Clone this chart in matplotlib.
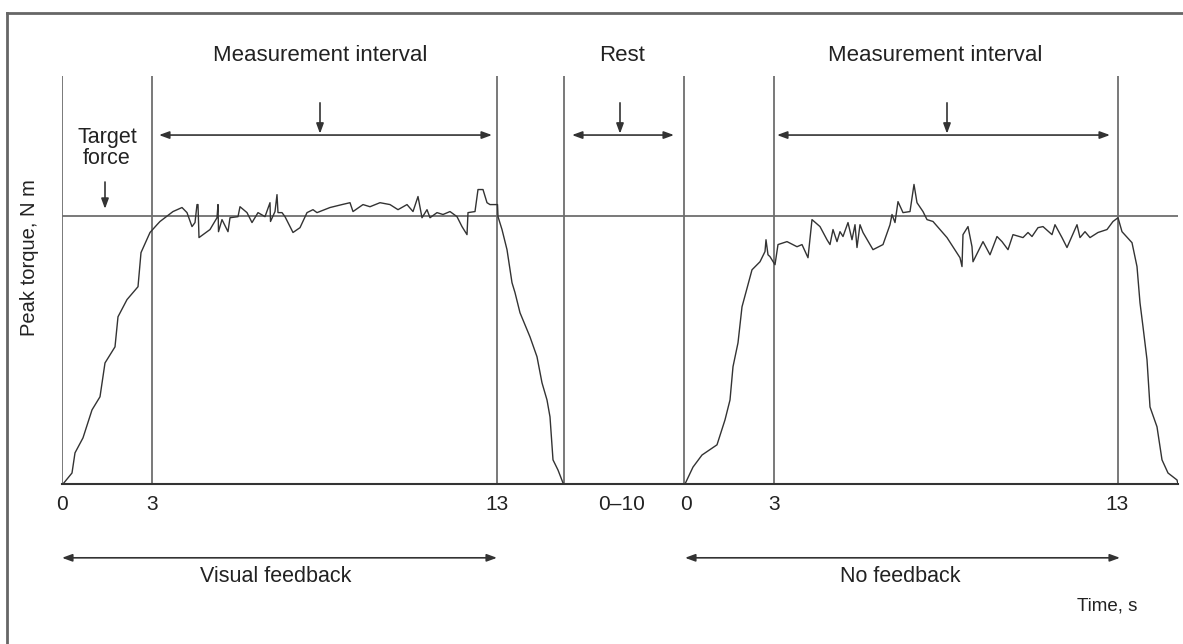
import matplotlib
matplotlib.use("Agg")
import matplotlib.pyplot as plt
from matplotlib.lines import Line2D

plt.rcParams["font.family"] = ["Liberation Sans", "DejaVu Sans"]

# schematic position along the time axis (arbitrary units) and torque in % of target
target_force = 100
axis_top = 152

# trial 1: visual feedback
t1_x = [1, 10, 13, 21, 30, 38, 43, 53, 56, 65, 76, 79, 88, 95, 98, 111, 120, 125, 130, 133,
        135, 136, 137, 148, 155, 156, 156.5, 160, 166, 168, 176, 178, 185, 190, 196, 203, 208,
        208.5, 213, 215, 216, 220, 223, 231, 238, 245, 251, 255, 268, 280, 288, 291, 301, 308,
        318, 328, 336, 345, 351, 356, 360, 365, 368, 375, 381, 388, 395, 400, 405, 406, 413,
        416, 421, 425, 428, 435.5, 436, 440, 445, 450, 453, 458, 468, 475, 480, 485, 488, 491,
        496, 501, 502]
t1_y = [0, 4.1, 11.6, 17.2, 27.6, 32.5, 45.1, 51.1, 62.3, 68.7, 73.5, 86.2, 93.7, 96.6, 97.8,
        101.5, 103.0, 101.1, 95.9, 97.4, 104.1, 104.1, 91.8, 94.8, 99.2, 104.1, 94.0, 98.5,
        94.0, 99.2, 99.6, 103.3, 101.1, 97.4, 101.1, 99.6, 104.8, 97.8, 101.5, 107.8, 101.1,
        101.1, 99.6, 93.7, 95.5, 101.1, 102.2, 101.1, 103.0, 104.1, 104.8, 101.5, 104.1, 103.3,
        104.8, 104.1, 102.2, 104.1, 101.5, 107.1, 99.2, 102.2, 99.2, 101.1, 100.4, 101.5, 99.6,
        95.9, 92.9, 101.1, 101.5, 109.7, 109.7, 104.8, 104.1, 104.1, 99.6, 94.8, 87.3, 75.0,
        71.3, 63.8, 54.8, 47.4, 37.7, 31.3, 25.0, 9.0, 5.2, 0.4, 0]

# trial 2: no feedback
t2_x = [623, 631, 640, 655, 663, 668, 671, 676, 680, 690, 698, 703, 704, 706, 708, 713, 716,
        725, 735, 740, 746, 750, 758, 765, 768, 771, 775, 778, 781, 786, 790, 793, 795, 798,
        801, 811, 821, 828, 830, 833, 836, 841, 848, 852, 855, 861, 865, 871, 885, 898, 900,
        901, 906, 910, 911, 921, 928, 935, 940, 946, 951, 961, 966, 970, 976, 981, 990, 993,
        1000, 1005, 1015, 1018, 1023, 1028, 1036, 1045, 1051, 1056, 1060, 1070, 1075, 1078,
        1081, 1085, 1088, 1095, 1100, 1106, 1115, 1116]
t2_y = [0, 6.3, 10.8, 14.6, 23.9, 31.3, 43.7, 52.6, 66.0, 79.8, 82.8, 86.6, 91.0, 85.4, 84.7,
        81.7, 89.2, 90.3, 88.4, 89.2, 84.3, 98.5, 95.9, 91.0, 89.2, 94.8, 90.3, 94.0, 92.2,
        97.4, 91.0, 96.6, 88.1, 96.6, 93.7, 87.3, 89.2, 96.6, 100.4, 97.4, 105.2, 101.1, 101.5,
        111.6, 104.8, 101.5, 98.5, 97.8, 91.8, 84.3, 81.0, 92.9, 95.9, 88.4, 82.8, 90.3, 85.4,
        92.2, 90.3, 87.3, 92.9, 91.8, 93.7, 92.2, 95.5, 95.9, 92.9, 96.6, 91.8, 88.1, 96.6,
        91.8, 94.0, 91.8, 93.7, 94.8, 97.8, 99.2, 94.0, 89.9, 81.0, 67.5, 58.6, 46.3, 28.7,
        21.3, 9.0, 4.1, 1.5, 0]

# markers on the time axis
boundaries = [0, 90, 435, 502, 622, 712, 1056]
tick_pos = [0, 90, 435, 560, 624, 712, 1055]
tick_labels = ["0", "3", "13", "0\u201310", "0", "3", "13"]

# labelled spans: (start, end, label, label x, arrow x)
top_spans = [(97, 430, "Measurement interval", 258, 258),
             (510, 612, "Rest", 560, 558),
             (715, 1048, "Measurement interval", 873, 885)]
bottom_spans = [(0, 435, "Visual feedback", 214), (623, 1058, "No feedback", 838)]

fig = plt.figure(figsize=(11.83, 6.44), dpi=100)
ax = fig.add_axes([62 / 1183, 160 / 644, 1116 / 1183, 408 / 644])
ax.set_xlim(0, 1116)
ax.set_ylim(0, axis_top)
for s in ["left", "right", "top"]:
    ax.spines[s].set_visible(False)
ax.spines["bottom"].set_color("#333333")
ax.spines["bottom"].set_linewidth(1.5)
ax.set_yticks([])
ax.set_xticks(tick_pos, tick_labels, fontsize=15)
ax.tick_params(axis="x", length=0, pad=8, colors="#222222")

gray = "#6e6e6e"
for b in boundaries:
    ax.axvline(b, 0, 1, color=gray, lw=1.3)
ax.axhline(target_force, color=gray, lw=1.3, xmax=1.0)

ax.plot(t1_x, t1_y, color="#333333", lw=1.0)
ax.plot(t2_x, t2_y, color="#333333", lw=1.0)

arrow_kw = dict(arrowstyle="<|-|>,head_length=0.6,head_width=0.22", color="#333333", lw=1.2,
                shrinkA=0, shrinkB=0)
down_kw = dict(arrowstyle="-|>,head_length=0.6,head_width=0.22", color="#333333", lw=1.2,
               shrinkA=0, shrinkB=0)

for x0, x1, label, xl, xa in top_spans:
    ax.annotate("", xy=(x0, 130), xytext=(x1, 130), arrowprops=arrow_kw, annotation_clip=False)
    ax.annotate("", xy=(xa, 130.5), xytext=(xa, 142), arrowprops=down_kw, annotation_clip=False)
    ax.text(xl, 159.5, label, ha="center", va="center", fontsize=16,
            color="#222222", clip_on=False)

ax.text(45, 125, "Target\nforce", ha="center", va="center", fontsize=15.5,
        color="#222222", linespacing=1.0)
ax.annotate("", xy=(43, 102.5), xytext=(43, 112.5), arrowprops=down_kw)

for x0, x1, label, xl in bottom_spans:
    ax.annotate("", xy=(x0, -27.5), xytext=(x1, -27.5), arrowprops=arrow_kw,
                annotation_clip=False)
    ax.text(xl, -34.5, label, ha="center", va="center", fontsize=15.5,
            color="#222222", clip_on=False)

ax.text(1045, -45.5, "Time, s", ha="center", va="center", fontsize=13.5,
        color="#222222", clip_on=False)
ax.text(-32, 84.5, "Peak torque, N m", ha="center", va="center", rotation=90,
        fontsize=14.5, color="#222222", clip_on=False)

# outer frame (cut at the right and bottom edges)
fig.add_artist(Line2D([7 / 1183, 1.0], [1 - 13 / 644, 1 - 13 / 644], color="#666666", lw=2))
fig.add_artist(Line2D([7 / 1183, 7 / 1183], [0.0, 1 - 13 / 644], color="#666666", lw=2))

fig.savefig("out.png", dpi=100)
